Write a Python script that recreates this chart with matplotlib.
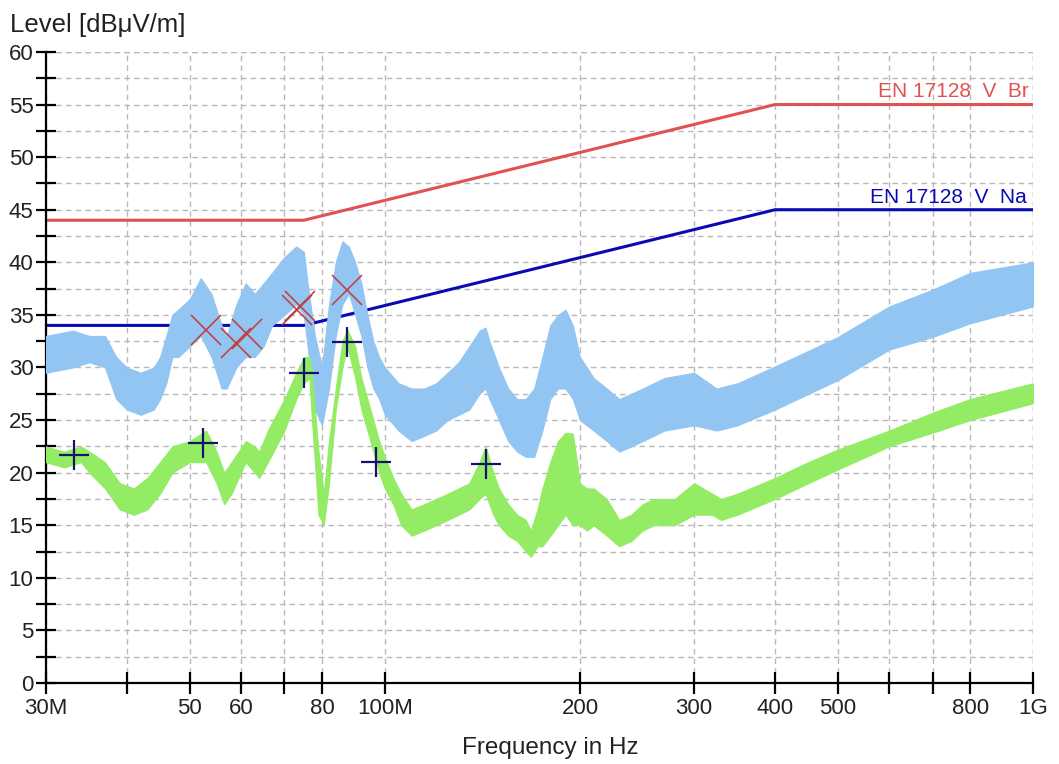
import numpy as np
import matplotlib
matplotlib.use('Agg')
import matplotlib.pyplot as plt
from matplotlib.ticker import FixedLocator, FixedFormatter, NullLocator, MultipleLocator

plt.rcParams['font.family'] = ['Liberation Sans', 'DejaVu Sans']

# peak trace (light blue), envelope, frequency in MHz
peak_f = [30, 33, 35, 37, 38.5, 40, 42, 44, 45, 46, 47, 48, 50, 52, 54, 56, 57, 59, 61, 63,
          65, 67, 70, 73, 75, 76, 78, 80, 82, 84, 86, 88, 90, 92, 94, 96, 98, 100, 105,
          110, 115, 120, 125, 130, 135, 140, 143, 145, 150, 155, 160, 165, 170, 175, 180,
          185, 190, 195, 200, 210, 220, 230, 240, 250, 270, 300, 325, 350, 400, 500, 600,
          700, 800, 1000]
peak_lo = [29.5, 30, 30.5, 30, 27, 26, 25.5, 26, 27, 28.5, 31, 31, 32, 33, 31, 28, 28, 30, 31, 31,
           32, 34, 35, 36, 35, 32, 26, 24.5, 28, 33, 36, 37, 35, 33, 30, 28, 27, 25.5, 24,
           23, 23.5, 24, 25, 25.5, 26, 27.5, 28, 27, 25, 23, 22, 21.5, 21.5, 24, 27,
           28, 28, 27, 25, 24, 23, 22, 22.5, 23, 24, 24.5, 24, 24.5, 26, 28.8, 31.7,
           32.9, 34.2, 35.8]
peak_hi = [33, 33.5, 33, 33, 31, 30, 29.5, 30, 31, 33, 35, 35.5, 36.5, 38.5, 37, 34, 33, 36, 38, 37,
           38, 39, 40.5, 41.5, 41, 38, 33, 30, 36, 40, 42, 41.5, 40, 38, 35, 32.5, 31, 30, 28.5,
           28, 28, 28.5, 29.5, 30.5, 32, 33.5, 33.8, 32.5, 30, 28, 27, 27, 28, 31, 34,
           35, 35.5, 34, 31, 29, 28, 27, 27.5, 28, 29, 29.5, 28, 28.5, 30.1, 32.9, 35.8,
           37.4, 39, 40]

# average trace (green)
avg_f = [30, 32, 34, 35, 37, 39, 41, 43, 45, 47, 50, 53, 55, 56.5, 58, 61, 63, 64, 66, 70,
         73, 75, 76.5, 77, 78, 79, 80.5, 82, 84, 86, 87.5, 90, 92, 94, 96, 98, 100, 103, 106,
         110, 115, 120, 125, 130, 135, 140, 143, 147, 150, 155, 160, 165, 168, 172, 175, 180,
         185, 190, 195, 200, 205, 210, 220, 230, 240, 250, 260, 280, 300, 320, 330, 350,
         400, 450, 500, 600, 700, 800, 1000]
avg_lo = [21, 20.5, 21, 20, 18.5, 16.5, 16, 16.5, 18, 20, 21, 21, 19, 17, 18, 21, 20, 19.5, 21, 24,
          27, 28.5, 29, 26, 21, 16, 15, 19, 26, 30, 32, 29, 26, 24, 22, 20, 18.5, 17, 15,
          14, 14.5, 15, 15.5, 16, 16.5, 17.5, 18, 16, 15, 14, 13.5, 12.5, 12, 13, 13, 14,
          15, 16, 15, 15, 14.5, 15, 14, 13, 13.5, 14.5, 15, 15, 16, 16, 15.5, 16,
          17.5, 19, 20.3, 22.5, 23.8, 25, 26.6]
avg_hi = [22.5, 22, 22.5, 22, 21, 19, 18.5, 19.5, 21, 22.5, 23, 24, 22, 20, 21, 23, 22.5, 22, 24, 27,
          29.5, 31, 31, 30, 26, 22, 18, 23, 28, 32.5, 33.6, 32, 29, 27, 25, 23, 21.5, 19.5, 18,
          16.5, 17, 17.5, 18, 18.5, 19, 21, 22.5, 20, 18.5, 17, 16, 15.5, 14.5, 16.5, 18.5, 21,
          23, 23.8, 23.7, 19, 18.5, 18.5, 17.5, 15.5, 16, 17, 17.5, 17.5, 19, 18, 17.5, 18,
          19.5, 21, 22.2, 24, 25.7, 27, 28.5]

# limit lines
lim_f = [30, 75, 400, 1000]
lim_br = [44, 44, 55, 55]
lim_na = [34, 34, 45, 45]

# final measurement markers
qp_f = [52.9, 58.9, 61.2, 73.1, 74.0, 87.3]
qp_v = [33.6, 32.3, 33.2, 35.5, 35.8, 37.4]
av_f = [33.1, 52.4, 75.1, 87.4, 97.0, 143.0]
av_v = [21.7, 22.85, 29.45, 32.4, 21.05, 20.8]

xticks = [30, 40, 50, 60, 70, 80, 100, 200, 300, 400, 500, 600, 700, 800, 1000]
xlabels = ['30M', '', '50', '60', '', '80', '100M', '200', '300', '400', '500', '', '', '800', '1G']

fig = plt.figure(figsize=(10.59, 7.64), dpi=100)
ax = fig.add_axes([0.0434, 0.106, 0.9320, 0.826])

ax.plot(lim_f, lim_br, color='#e05252', lw=2.2, zorder=2)
ax.plot(lim_f, lim_na, color='#0a0ab4', lw=2.2, zorder=2)

ax.fill_between(peak_f, peak_lo, peak_hi, color='#93c5f3', lw=0.8, zorder=3)
ax.fill_between(avg_f, avg_lo, avg_hi, color='#93ec63', lw=0.8, zorder=3)

ax.plot(qp_f, qp_v, ls='none', marker='x', ms=21, mew=1.1, color='#c23a3a', zorder=5)
ax.plot(av_f, av_v, ls='none', marker='+', ms=22, mew=1.6, color='#141470', zorder=5)

ax.text(577, 55.3, 'EN 17128  V  Br', color='#e05252', fontsize=15, va='bottom',
        ha='left', clip_on=True, zorder=4)
ax.text(561, 45.3, 'EN 17128  V  Na', color='#0a0ab4', fontsize=15, va='bottom',
        ha='left', clip_on=True, zorder=4)

ax.set_xscale('log')
ax.set_xlim(30, 1000)
ax.set_ylim(0, 60)
ax.xaxis.set_major_locator(FixedLocator(xticks))
ax.xaxis.set_major_formatter(FixedFormatter(xlabels))
ax.xaxis.set_minor_locator(NullLocator())
ax.yaxis.set_major_locator(MultipleLocator(5))
ax.yaxis.set_minor_locator(MultipleLocator(2.5))

ax.grid(True, which='both', color='#b8b8b8', ls=(0, (4, 3)), lw=1.0, zorder=0)
ax.set_axisbelow(True)
ax.axhline(60, color='#b8b8b8', ls=(0, (4, 3)), lw=1.0, zorder=0)
ax.axvline(1000, color='#b8b8b8', ls=(0, (4, 3)), lw=1.0, zorder=0)

for s in ['top', 'right']:
    ax.spines[s].set_visible(False)
for s in ['left', 'bottom']:
    ax.spines[s].set_linewidth(1.6)

ax.tick_params(axis='both', which='both', direction='inout', width=1.6, colors='black',
               labelcolor='#222222', labelsize=16)
ax.tick_params(axis='y', which='major', length=14, pad=2)
ax.tick_params(axis='y', which='minor', length=14)
ax.tick_params(axis='x', which='major', length=16, pad=3)

fig.text(0.009, 0.967, 'Level [dBμV/m]', fontsize=18.5, color='#222222', ha='left', va='center')
fig.text(0.520, 0.021, 'Frequency in Hz', fontsize=17.5, color='#222222', ha='center', va='center')

fig.savefig('out.png', dpi=100)
